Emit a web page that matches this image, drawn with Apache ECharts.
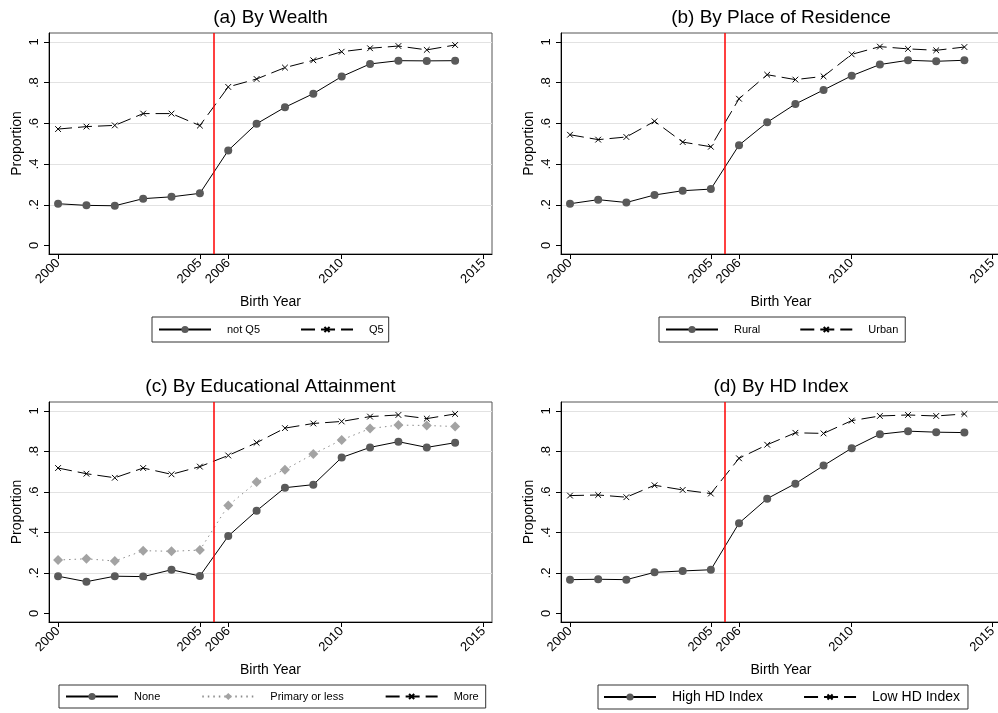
<!DOCTYPE html>
<html><head><meta charset="utf-8">
<script src="https://cdn.jsdelivr.net/npm/echarts@6/dist/echarts.min.js"></script>
<style>html,body{margin:0;padding:0;background:#fff}#c{width:998px;height:713px}</style>
</head><body><div id="c"></div>
<script>
// ---- data ----
const years = [2000,2001,2002,2003,2004,2005,2006,2007,2008,2009,2010,2011,2012,2013,2014];
const xTickValues = [2000,2005,2006,2010,2015];
const xTickLabels = ['2000','2005','2006','2010','2015'];
const yTickValues = [0,0.2,0.4,0.6,0.8,1];
const yTickLabels = ['0','.2','.4','.6','.8','1'];
const policyYear = 2005.5;

const panelTitles = ['(a) By Wealth','(b) By Place of Residence','(c) By Educational Attainment','(d) By HD Index'];

const notQ5 = [0.205,0.197,0.195,0.230,0.239,0.256,0.467,0.598,0.679,0.746,0.830,0.892,0.908,0.907,0.908];
const q5    = [0.572,0.584,0.590,0.648,0.648,0.589,0.779,0.818,0.874,0.910,0.952,0.969,0.980,0.961,0.985];

const rural = [0.205,0.225,0.211,0.248,0.269,0.277,0.493,0.605,0.695,0.764,0.834,0.889,0.910,0.905,0.910];
const urban = [0.544,0.520,0.533,0.610,0.508,0.485,0.721,0.839,0.815,0.831,0.939,0.977,0.966,0.959,0.975];

const eduNone    = [0.184,0.157,0.184,0.182,0.216,0.185,0.382,0.507,0.621,0.636,0.770,0.820,0.848,0.820,0.843];
const eduPrimary = [0.264,0.270,0.259,0.310,0.307,0.313,0.533,0.649,0.710,0.787,0.857,0.913,0.930,0.928,0.923];
const eduMore    = [0.718,0.690,0.670,0.718,0.687,0.725,0.780,0.843,0.915,0.938,0.948,0.972,0.980,0.962,0.985];

const highHD = [0.167,0.169,0.167,0.203,0.210,0.216,0.446,0.567,0.641,0.730,0.816,0.885,0.900,0.895,0.893];
const lowHD  = [0.582,0.585,0.574,0.633,0.610,0.592,0.766,0.833,0.892,0.889,0.952,0.975,0.980,0.975,0.985];

// ---- styles ----
const FONT = '"Liberation Sans", Arial, Helvetica, sans-serif';
const STY = {
  circle: {symbol:'circle', symbolSize:8, lineStyle:{color:'#000', width:1, type:'solid'}, itemStyle:{color:'#5a5a5a'}},
  cross: {symbol:'path://M-2,-2L-2,-2M0,0L10,10M10,0L0,10M12,12L12,12', symbolSize:8, lineStyle:{color:'#000', width:1, type:[14,6]}, itemStyle:{color:'rgba(0,0,0,0)', borderColor:'#000', borderWidth:1}},
  diamond: {symbol:'diamond', symbolSize:10, lineStyle:{color:'#8c8c8c', width:1, type:[1.5,4]}, itemStyle:{color:'#a3a3a3'}}
};

const panels = [
  {grid:{left:49, top:33, width:443, height:221}, titleX:270.5, titleY:8,
   legend:{left:152, top:317, fontSize:11, gap:40, padding:[7,5,7,6]},
   series:[['not Q5', notQ5, 'circle'], ['Q5', q5, 'cross']]},
  {grid:{left:561, top:33, width:440, height:221}, titleX:781, titleY:8,
   legend:{left:659, top:317, fontSize:11, gap:39, padding:[7,7,7,6]},
   series:[['Rural', rural, 'circle'], ['Urban', urban, 'cross']]},
  {grid:{left:49, top:402, width:443, height:220}, titleX:270.5, titleY:377,
   legend:{left:59, top:685, fontSize:11, gap:41, padding:[6,7,6,6]},
   series:[['None', eduNone, 'circle'], ['Primary or less', eduPrimary, 'diamond'], ['More', eduMore, 'cross']]},
  {grid:{left:561, top:402, width:440, height:220}, titleX:781, titleY:377,
   legend:{left:598, top:685, fontSize:14, gap:40, padding:[5,8,5,5]},
   series:[['High HD Index', highHD, 'circle'], ['Low HD Index', lowHD, 'cross']]}
];

const gridLineColors = yTickValues.map(v => v === 0 ? 'rgba(0,0,0,0)' : '#e2e2e2');

const option = {
  backgroundColor:'#fff', animation:false,
  title:[], legend:[], grid:[], xAxis:[], yAxis:[], series:[]
};

panels.forEach((p, i) => {
  option.title.push({text:panelTitles[i], left:p.titleX, top:p.titleY, textAlign:'center', padding:0,
    textStyle:{fontFamily:FONT, fontSize:19, fontWeight:'normal', color:'#000'}});
  option.grid.push(Object.assign({show:true, borderColor:'#555', borderWidth:1, backgroundColor:'#fff', containLabel:false, outerBoundsMode:'none'}, p.grid));
  option.xAxis.push({gridIndex:i, type:'value', min:1999.68, max:2015.3,
    axisLine:{show:true, onZero:false, lineStyle:{color:'#000', width:1}},
    axisTick:{show:true, length:5, customValues:xTickValues, lineStyle:{color:'#000'}},
    axisLabel:{customValues:xTickValues, rotate:45, margin:7, fontSize:13, color:'#000', fontFamily:FONT, hideOverlap:false,
      formatter:(v) => { const k = xTickValues.findIndex(t => Math.abs(t - v) < 1e-6); return k >= 0 ? xTickLabels[k] : ''; }},
    splitLine:{show:false},
    name:'Birth Year', nameLocation:'middle', nameGap:41,
    nameTextStyle:{fontFamily:FONT, fontSize:14, color:'#000'}});
  option.yAxis.push({gridIndex:i, type:'value', min:-0.042, max:1.044,
    axisLine:{show:true, onZero:false, lineStyle:{color:'#000', width:1}},
    axisTick:{show:true, length:5, customValues:yTickValues, lineStyle:{color:'#000'}},
    axisLabel:{customValues:yTickValues, rotate:90, margin:8, fontSize:13, color:'#000', fontFamily:FONT, hideOverlap:false,
      formatter:(v) => { const k = yTickValues.findIndex(t => Math.abs(t - v) < 1e-6); return k >= 0 ? yTickLabels[k] : ''; }},
    splitLine:{show:true, lineStyle:{color:gridLineColors, width:1}},
    name:'Proportion', nameLocation:'middle', nameGap:25, nameRotate:90,
    nameTextStyle:{fontFamily:FONT, fontSize:14, color:'#000'}});
  option.legend.push({left:p.legend.left, top:p.legend.top, orient:'horizontal',
    data:p.series.map(s => s[0]), selectedMode:false,
    itemWidth:52, itemHeight:9, itemGap:p.legend.gap, padding:p.legend.padding,
    borderColor:'#333', borderWidth:1, backgroundColor:'#fff',
    textStyle:{fontFamily:FONT, fontSize:p.legend.fontSize, color:'#000', padding:[0,0,0,11]}});
  p.series.forEach((s, j) => {
    const st = STY[s[2]];
    const ser = {name:s[0], type:'line', xAxisIndex:i, yAxisIndex:i,
      data:years.map((y, k) => [y, s[1][k]]),
      symbol:st.symbol, symbolSize:st.symbolSize, showSymbol:true,
      lineStyle:st.lineStyle, itemStyle:st.itemStyle,
      emphasis:{disabled:true}, silent:true, z:3};
    if (j === 0) {
      ser.markLine = {silent:true, symbol:['none','none'], label:{show:false},
        lineStyle:{color:'#ff0000', width:1.5, type:'solid'},
        data:[{xAxis:policyYear}]};
    }
    option.series.push(ser);
  });
});

const chart = echarts.init(document.getElementById('c'), null, {renderer:'canvas'});
chart.setOption(option);
</script>
</body></html>
